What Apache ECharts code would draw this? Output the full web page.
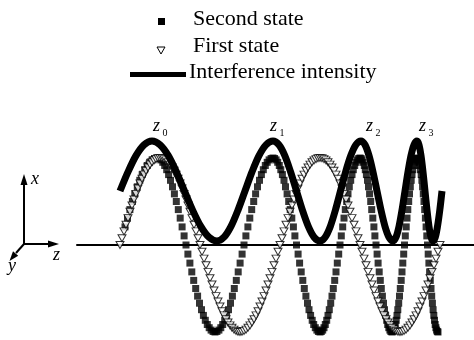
<!DOCTYPE html>
<html><head><meta charset="utf-8">
<script src="https://cdn.jsdelivr.net/npm/echarts@6/dist/echarts.min.js"></script>
<style>html,body{margin:0;padding:0;background:#fff}#c{width:474px;height:340px}</style>
</head><body><div id="c"></div>
<script>
// z position (horizontal) and x displacement (vertical)
const firstZ = [120,122,124,126,128,130,132,134,136,138,
140,142,144,146,148,150,152,154,156,158,
160,162,164,166,168,170,172,174,176,178,
180,182,184,186,188,190,192,194,196,198,
200,202,204,206,208,210,212,214,216,218,
220,222,224,226,228,230,232,234,236,238,
240,242,244,246,248,250,252,254,256,258,
260,262,264,266,268,270,272,274,276,278,
280,282,284,286,288,290,292,294,296,298,
300,302,304,306,308,310,312,314,316,318,
320,322,324,326,328,330,332,334,336,338,
340,342,344,346,348,350,352,354,356,358,
360,362,364,366,368,370,372,374,376,378,
380,382,384,386,388,390,392,394,396,398,
400,402,404,406,408,410,412,414,416,418,
420,422,424,426,428,430,432,434,436,438,
440];
const firstX = [0,6.8,13.6,20.3,26.9,33.3,39.5,45.5,51.1,56.5,61.5,66.2,70.4,74.2,77.5,80.4,82.7,84.6,85.9,86.7,87,
86.7,85.9,84.6,82.7,80.4,77.5,74.2,70.4,66.2,61.5,56.5,51.1,45.5,39.5,33.3,26.9,20.3,13.6,6.8,0,
-6.8,-13.6,-20.3,-26.9,-33.3,-39.5,-45.5,-51.1,-56.5,-61.5,-66.2,-70.4,-74.2,-77.5,-80.4,-82.7,-84.6,-85.9,-86.7,-87,
-86.7,-85.9,-84.6,-82.7,-80.4,-77.5,-74.2,-70.4,-66.2,-61.5,-56.5,-51.1,-45.5,-39.5,-33.3,-26.9,-20.3,-13.6,-6.8,0,
6.8,13.6,20.3,26.9,33.3,39.5,45.5,51.1,56.5,61.5,66.2,70.4,74.2,77.5,80.4,82.7,84.6,85.9,86.7,87,
86.7,85.9,84.6,82.7,80.4,77.5,74.2,70.4,66.2,61.5,56.5,51.1,45.5,39.5,33.3,26.9,20.3,13.6,6.8,0,
-6.8,-13.6,-20.3,-26.9,-33.3,-39.5,-45.5,-51.1,-56.5,-61.5,-66.2,-70.4,-74.2,-77.5,-80.4,-82.7,-84.6,-85.9,-86.7,-87,
-86.7,-85.9,-84.6,-82.7,-80.4,-77.5,-74.2,-70.4,-66.2,-61.5,-56.5,-51.1,-45.5,-39.5,-33.3,-26.9,-20.3,-13.6,-6.8,0];

const secondZ = [125,127.5,129.9,132.4,134.8,137.3,139.8,142.2,144.7,147.2,149.6,152.1,154.5,157,
158.9,160.9,162.8,164.7,166.7,168.6,170.5,172.5,174.4,176.3,178.3,180.2,182.1,184.1,186,187.9,189.9,191.8,193.7,195.7,197.6,199.5,201.5,203.4,205.3,207.3,209.2,211.1,213.1,215,
216.9,218.9,220.8,222.7,224.7,226.6,228.5,230.5,232.4,234.3,236.3,238.2,240.1,242.1,244,245.9,247.9,249.8,251.7,253.7,255.6,257.5,259.5,261.4,263.3,265.3,267.2,269.1,271.1,273,
274.6,276.1,277.7,279.3,280.8,282.4,284,285.5,287.1,288.7,290.2,291.8,293.4,294.9,296.5,298.1,299.6,301.2,302.8,304.3,305.9,307.5,309,310.6,312.2,313.7,315.3,316.9,318.4,320,
321.3,322.7,324,325.3,326.7,328,329.3,330.7,332,333.3,334.7,336,337.3,338.7,340,341.3,342.7,344,345.3,346.7,348,349.3,350.7,352,353.3,354.7,356,357.3,358.7,360,
361.1,362.1,363.2,364.3,365.3,366.4,367.5,368.5,369.6,370.7,371.7,372.8,373.9,374.9,376,377.1,378.1,379.2,380.3,381.3,382.4,383.5,384.5,385.6,386.7,387.7,388.8,389.9,390.9,392,
392.8,393.7,394.5,395.3,396.2,397,397.8,398.7,399.5,400.3,401.2,402,402.8,403.7,404.5,405.3,406.2,407,407.8,408.7,409.5,410.3,411.2,412,412.8,413.7,414.5,415.3,416.2,417,
417.7,418.4,419.1,419.8,420.5,421.2,421.9,422.6,423.3,424,424.7,425.4,426.1,426.8,427.5,428.2,428.9,429.6,430.3,431,431.7,432.4,433.1,433.8,434.5,435.2,435.9,436.6,437.3,438];
const secondX = [18.1,26.9,35.4,43.5,51.1,58.2,64.7,70.4,75.3,79.5,82.7,85.1,86.5,87,
86.5,85.1,82.7,79.5,75.3,70.4,64.7,58.2,51.1,43.5,35.4,26.9,18.1,9.1,0,-9.1,-18.1,-26.9,-35.4,-43.5,-51.1,-58.2,-64.7,-70.4,-75.3,-79.5,-82.7,-85.1,-86.5,-87,
-86.5,-85.1,-82.7,-79.5,-75.3,-70.4,-64.7,-58.2,-51.1,-43.5,-35.4,-26.9,-18.1,-9.1,0,9.1,18.1,26.9,35.4,43.5,51.1,58.2,64.7,70.4,75.3,79.5,82.7,85.1,86.5,87,
86.5,85.1,82.7,79.5,75.3,70.4,64.7,58.2,51.1,43.5,35.4,26.9,18.1,9.1,0,-9.1,-18.1,-26.9,-35.4,-43.5,-51.1,-58.2,-64.7,-70.4,-75.3,-79.5,-82.7,-85.1,-86.5,-87,
-86.5,-85.1,-82.7,-79.5,-75.3,-70.4,-64.7,-58.2,-51.1,-43.5,-35.4,-26.9,-18.1,-9.1,0,9.1,18.1,26.9,35.4,43.5,51.1,58.2,64.7,70.4,75.3,79.5,82.7,85.1,86.5,87,
86.5,85.1,82.7,79.5,75.3,70.4,64.7,58.2,51.1,43.5,35.4,26.9,18.1,9.1,0,-9.1,-18.1,-26.9,-35.4,-43.5,-51.1,-58.2,-64.7,-70.4,-75.3,-79.5,-82.7,-85.1,-86.5,-87,
-86.5,-85.1,-82.7,-79.5,-75.3,-70.4,-64.7,-58.2,-51.1,-43.5,-35.4,-26.9,-18.1,-9.1,0,9.1,18.1,26.9,35.4,43.5,51.1,58.2,64.7,70.4,75.3,79.5,82.7,85.1,86.5,87,
86.5,85.1,82.7,79.5,75.3,70.4,64.7,58.2,51.1,43.5,35.4,26.9,18.1,9.1,0,-9.1,-18.1,-26.9,-35.4,-43.5,-51.1,-58.2,-64.7,-70.4,-75.3,-79.5,-82.7,-85.1,-86.5,-87];

const intensityZ = [120,128,136,144,152,
160.1,168.3,176.4,184.5,192.6,200.8,208.9,217,
224,231,238,245,252,259,266,273,
278.9,284.8,290.6,296.5,302.4,308.3,314.1,320,
325.1,330.3,335.4,340.5,345.6,350.8,355.9,361,
365,369,373,377,381,385,389,393,
396,399,402,405,408,411,414,417,
419,421,423,425,427,429,431,433,
435.3,437.5,439.8,442];
const intensityI = [54,73.1,89.4,100.2,104,
100.2,89.4,73.1,54,34.9,18.6,7.8,4,
7.8,18.6,34.9,54,73.1,89.4,100.2,104,
100.2,89.4,73.1,54,34.9,18.6,7.8,4,
7.8,18.6,34.9,54,73.1,89.4,100.2,104,
100.2,89.4,73.1,54,34.9,18.6,7.8,4,
7.8,18.6,34.9,54,73.1,89.4,100.2,104,
100.2,89.4,73.1,54,34.9,18.6,7.8,4,
7.8,18.6,34.9,54];

const seriesNames = ['Second state', 'First state', 'Interference intensity'];
const peakLabels = ['0', '1', '2', '3'];

const zip = (a, b) => a.map((v, i) => [v, b[i]]);
const SERIF = '"Liberation Serif","Times New Roman",serif';

const chart = echarts.init(document.getElementById('c'), null, {renderer: 'canvas'});

// peak label layout (pixels)
const peakLabelLeft = [153, 270, 366, 419];
const graphics = [];
peakLabels.forEach((s, i) => {
  graphics.push({type: 'text', style: {text: 'z', x: peakLabelLeft[i], y: 126.5, font: 'italic 18px ' + SERIF, fill: '#000', align: 'left', verticalAlign: 'middle'}});
  graphics.push({type: 'text', style: {text: s, x: peakLabelLeft[i] + 9.5, y: 133.5, font: '10px ' + SERIF, fill: '#000', align: 'left', verticalAlign: 'middle'}});
});
// legend
graphics.push(
  {type: 'rect', shape: {x: 158, y: 18, width: 7, height: 7}, style: {fill: '#000'}},
  {type: 'text', style: {text: seriesNames[0], x: 193, y: 18.8, font: '22px ' + SERIF, fill: '#000', align: 'left', verticalAlign: 'middle'}},
  {type: 'polygon', shape: {points: [[157, 47], [165, 47], [161, 54]]}, style: {fill: '#fff', stroke: '#000', lineWidth: 1}},
  {type: 'text', style: {text: seriesNames[1], x: 193, y: 46, font: '22px ' + SERIF, fill: '#000', align: 'left', verticalAlign: 'middle'}},
  {type: 'line', shape: {x1: 130, y1: 74.5, x2: 186, y2: 74.5}, style: {stroke: '#000', lineWidth: 5}},
  {type: 'text', style: {text: seriesNames[2], x: 189, y: 72, font: '22px ' + SERIF, fill: '#000', align: 'left', verticalAlign: 'middle'}}
);
// coordinate-frame icon
graphics.push(
  {type: 'polyline', shape: {points: [[24, 244], [24, 182]]}, style: {stroke: '#000', lineWidth: 2}},
  {type: 'polygon', shape: {points: [[24, 174], [20.5, 185], [27.5, 185]]}, style: {fill: '#000'}},
  {type: 'polyline', shape: {points: [[23, 244], [50, 244]]}, style: {stroke: '#000', lineWidth: 2}},
  {type: 'polygon', shape: {points: [[59, 244], [48, 240.5], [48, 247.5]]}, style: {fill: '#000'}},
  {type: 'polyline', shape: {points: [[24, 244], [16, 253]]}, style: {stroke: '#000', lineWidth: 2}},
  {type: 'polygon', shape: {points: [[9.5, 261], [18.2, 255.8], [13, 251.2]]}, style: {fill: '#000'}},
  {type: 'text', style: {text: 'x', x: 31, y: 179, font: 'italic 18px ' + SERIF, fill: '#000', align: 'left', verticalAlign: 'middle'}},
  {type: 'text', style: {text: 'z', x: 53, y: 255, font: 'italic 18px ' + SERIF, fill: '#000', align: 'left', verticalAlign: 'middle'}},
  {type: 'text', style: {text: 'y', x: 8, y: 266, font: 'italic 18px ' + SERIF, fill: '#000', align: 'left', verticalAlign: 'middle'}}
);

chart.setOption({
  animation: false,
  backgroundColor: '#fff',
  grid: {left: 77, right: 0, top: 105, bottom: 0},
  xAxis: {
    type: 'value', min: 77, max: 474,
    axisLine: {show: true, onZero: true, lineStyle: {color: '#000', width: 2}},
    axisTick: {show: false}, axisLabel: {show: false}, splitLine: {show: false}
  },
  yAxis: {
    type: 'value', min: -95, max: 140,
    axisLine: {show: false}, axisTick: {show: false}, axisLabel: {show: false}, splitLine: {show: false}
  },
  series: [
    {
      name: seriesNames[0], type: 'scatter', z: 2,
      symbol: 'rect', symbolSize: 7,
      itemStyle: {color: '#000'},
      data: zip(secondZ, secondX)
    },
    {
      name: seriesNames[1], type: 'scatter', z: 3,
      symbol: 'triangle', symbolRotate: 180, symbolSize: [8, 7],
      itemStyle: {color: '#fff', borderColor: '#000', borderWidth: 1},
      data: zip(firstZ, firstX)
    },
    {
      name: seriesNames[2], type: 'line', z: 4,
      showSymbol: false, smooth: 0.3,
      lineStyle: {color: '#000', width: 7, cap: 'butt', join: 'round'},
      data: zip(intensityZ, intensityI)
    }
  ],
  graphic: graphics
});
</script>
</body></html>
